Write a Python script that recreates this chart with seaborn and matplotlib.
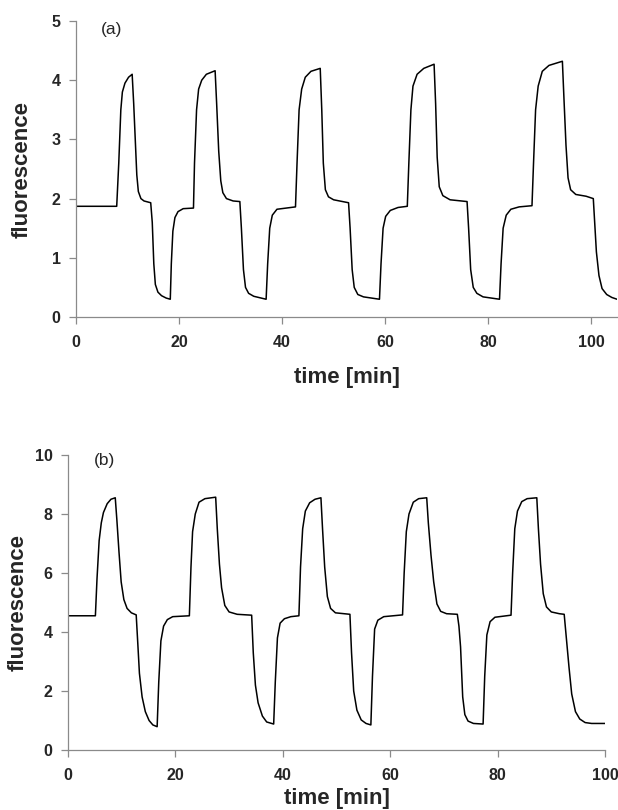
import matplotlib
matplotlib.use("Agg")
import matplotlib.pyplot as plt
import seaborn as sns
import pandas as pd

# ---- data ----
t_a = [0, 7.9, 8.3, 8.7, 9.0, 9.5, 10.2, 10.9, 11.2, 11.5, 11.8, 12.1, 12.6, 13.2, 14.5, 14.8, 15.1, 15.4, 15.9, 16.6, 17.5, 18.3,
       18.5, 18.8, 19.2, 19.8, 20.8, 22.8,
       23.0, 23.4, 23.8, 24.4, 25.3, 27.0, 27.3, 27.7, 28.1, 28.5, 29.2, 30.5, 31.8, 32.1, 32.5, 32.9, 33.5, 34.5, 36.9,
       37.2, 37.6, 38.1, 39.0, 42.6,
       42.9, 43.3, 43.8, 44.5, 45.6, 47.4, 47.7, 48.0, 48.4, 49.0, 50.0, 52.9, 53.2, 53.6, 54.0, 54.7, 55.8, 58.9,
       59.2, 59.6, 60.1, 61.0, 62.5, 64.3,
       64.6, 65.0, 65.4, 66.2, 67.5, 69.5, 69.8, 70.1, 70.5, 71.2, 72.6, 75.9, 76.2, 76.6, 77.1, 77.8, 79.0, 82.2,
       82.5, 82.9, 83.5, 84.4, 86.0, 88.5,
       88.8, 89.2, 89.7, 90.5, 91.8, 94.4, 94.7, 95.1, 95.5, 96.0, 97.0, 99.0, 100.4, 100.6, 101.0, 101.5, 102.1,
       103.0, 104.0, 105.0]
f_a = [1.87, 1.87, 2.6, 3.5, 3.8, 3.95, 4.05, 4.1, 3.6, 3.0, 2.4, 2.12, 2.0, 1.96, 1.93, 1.6, 0.9, 0.55, 0.42, 0.36, 0.32, 0.3,
       0.9, 1.45, 1.68, 1.78, 1.83, 1.84,
       2.6, 3.5, 3.85, 4.0, 4.1, 4.16, 3.6, 2.8, 2.3, 2.1, 2.0, 1.96, 1.95, 1.5, 0.8, 0.5, 0.4, 0.35, 0.3,
       0.9, 1.5, 1.72, 1.82, 1.86,
       2.6, 3.5, 3.85, 4.05, 4.15, 4.2, 3.5, 2.6, 2.15, 2.03, 1.98, 1.93, 1.5, 0.8, 0.5, 0.38, 0.34, 0.3,
       0.9, 1.5, 1.7, 1.8, 1.85, 1.87,
       2.6, 3.5, 3.9, 4.1, 4.2, 4.27, 3.6, 2.7, 2.2, 2.05, 1.98, 1.95, 1.5, 0.8, 0.5, 0.4, 0.34, 0.3,
       0.9, 1.5, 1.72, 1.82, 1.86, 1.88,
       2.6, 3.5, 3.9, 4.15, 4.25, 4.32, 3.7, 2.9, 2.35, 2.15, 2.07, 2.04, 2.0, 1.7, 1.1, 0.7, 0.48,
       0.38, 0.33, 0.3]

t_b = [0, 5.1, 5.4, 5.8, 6.2, 6.6, 7.3, 8.0, 8.8, 9.1, 9.5, 9.9, 10.4, 11.0, 11.8, 12.7, 13.0, 13.3, 13.8, 14.4, 15.1, 15.8, 16.6,
       16.9, 17.3, 17.8, 18.5, 19.5, 22.6,
       22.9, 23.2, 23.7, 24.4, 25.5, 27.5, 27.8, 28.2, 28.6, 29.2, 30.0, 31.5, 34.2, 34.5, 34.9, 35.4, 36.2, 37.0, 38.3,
       38.6, 39.0, 39.5, 40.3, 41.5, 43.0,
       43.3, 43.7, 44.2, 45.0, 46.0, 47.1, 47.4, 47.8, 48.3, 48.9, 49.8, 52.5, 52.8, 53.2, 53.8, 54.6, 55.5, 56.4,
       56.7, 57.1, 57.7, 58.8, 62.3,
       62.6, 63.0, 63.5, 64.3, 65.3, 66.8, 67.1, 67.6, 68.1, 68.7, 69.4, 70.5, 72.5, 72.8, 73.1, 73.5, 73.9, 74.5, 75.5, 77.3,
       77.6, 78.0, 78.6, 79.5, 82.5,
       82.8, 83.2, 83.7, 84.5, 85.5, 87.3, 87.6, 88.0, 88.5, 89.1, 90.0, 91.5, 92.4, 92.8, 93.3, 93.8, 94.5, 95.3, 96.3,
       97.5, 100.0]
f_b = [4.55, 4.55, 5.8, 7.1, 7.7, 8.05, 8.35, 8.5, 8.55, 7.8, 6.7, 5.7, 5.1, 4.8, 4.65, 4.58, 3.6, 2.6, 1.8, 1.3, 1.0, 0.85, 0.79,
       2.3, 3.7, 4.2, 4.42, 4.52, 4.55,
       6.2, 7.4, 8.0, 8.4, 8.52, 8.57, 7.5, 6.3, 5.5, 4.9, 4.68, 4.6, 4.57, 3.3, 2.2, 1.6, 1.15, 0.95, 0.88,
       2.3, 3.8, 4.3, 4.45, 4.52, 4.55,
       6.2, 7.5, 8.1, 8.38, 8.5, 8.55, 7.5, 6.2, 5.2, 4.8, 4.65, 4.6, 3.3, 2.0, 1.35, 1.02, 0.9, 0.85,
       2.5, 4.1, 4.4, 4.52, 4.58,
       6.0, 7.4, 8.0, 8.4, 8.52, 8.55, 7.7, 6.6, 5.7, 4.95, 4.7, 4.62, 4.6, 4.2, 3.5, 1.8, 1.2, 0.98, 0.9, 0.88,
       2.5, 3.9, 4.35, 4.5, 4.57,
       6.0, 7.5, 8.1, 8.42, 8.52, 8.55, 7.5, 6.3, 5.3, 4.85, 4.68, 4.62, 4.6, 3.8, 2.8, 1.9, 1.3, 1.05, 0.93,
       0.9, 0.9]

x_ticks = [0, 20, 40, 60, 80, 100]
y_ticks_a = [0, 1, 2, 3, 4, 5]
y_ticks_b = [0, 2, 4, 6, 8, 10]
panel_labels = ["(a)", "(b)"]
x_label = "time [min]"
y_label = "fluorescence"

df_a = pd.DataFrame({"time": t_a, "fluorescence": f_a})
df_b = pd.DataFrame({"time": t_b, "fluorescence": f_b})

sns.set_style("white")
plt.rcParams["font.family"] = ["Liberation Sans", "DejaVu Sans"]

W, H = 618, 810
fig = plt.figure(figsize=(W / 100, H / 100), dpi=100)

def rect(l, t, r, b):
    return [l / W, 1 - b / H, (r - l) / W, (b - t) / H]

ax_a = fig.add_axes(rect(76, 21, 617, 317))
ax_b = fig.add_axes(rect(68, 455, 605, 750))

spine_c = "#8a8a8a"
configs = [
    (ax_a, df_a, (0, 105), (0, 5), y_ticks_a, panel_labels[0], (4.8, 4.86), -0.0989, -0.206),
    (ax_b, df_b, (0, 100), (0, 10), y_ticks_b, panel_labels[1], (4.85, 9.83), -0.0922, -0.166),
]
for ax, df, xl, yl, yt, plab, ppos, ylx, xly in configs:
    sns.lineplot(data=df, x="time", y="fluorescence", ax=ax, color="black",
                 linewidth=1.1, sort=False, estimator=None)
    ax.set_xlim(*xl)
    ax.set_ylim(*yl)
    ax.set_xticks(x_ticks)
    ax.set_yticks(yt)
    ax.set_xticklabels([str(v) for v in x_ticks], fontweight="bold", fontsize=11.5)
    ax.set_yticklabels([str(v) for v in yt], fontweight="bold", fontsize=11.5)
    for s in ["top", "right"]:
        ax.spines[s].set_visible(False)
    for s in ["left", "bottom"]:
        ax.spines[s].set_color(spine_c)
        ax.spines[s].set_linewidth(0.9)
    ax.tick_params(axis="both", direction="out", length=5, width=0.9, color=spine_c,
                   left=True, bottom=True)
    ax.tick_params(axis="y", pad=6)
    ax.tick_params(axis="x", pad=8)
    ax.set_xlabel(x_label, fontsize=16, fontweight="bold")
    ax.set_ylabel(y_label, fontsize=16, fontweight="bold")
    ax.yaxis.set_label_coords(ylx, 0.5)
    ax.xaxis.set_label_coords(0.5, xly)
    ax.yaxis.label.set_verticalalignment("center")
    ax.xaxis.label.set_verticalalignment("center")
    ax.text(ppos[0], ppos[1], plab, fontsize=12.5, ha="left", va="center")
    ax.set_facecolor("white")

fig.savefig("out.png", dpi=100, facecolor="white")
